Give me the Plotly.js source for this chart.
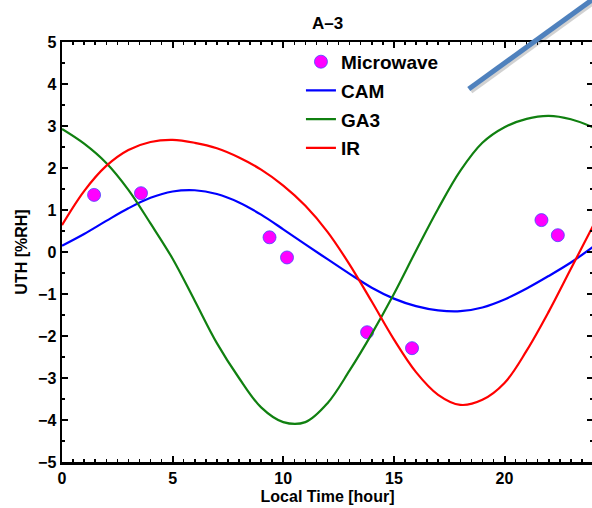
<!DOCTYPE html>
<html>
<head>
<meta charset="utf-8">
<script src="https://cdn.plot.ly/plotly-3.0.1.min.js"></script>
<style>
html,body{margin:0;padding:0;overflow:hidden;background:#fff;width:592px;height:508px;}
#chart{width:600px;height:508px;}
</style>
</head>
<body>
<div id="chart"></div>
<script>
// Local time (hour) for the curves
const hours = [0,1,2,3,4,5,6,7,8,9,10,11,12,13,14,15,16,17,18,19,20,21,22,23,24];
// CAM (blue)
const cam = [0.15,0.43,0.74,1.04,1.29,1.44,1.47,1.38,1.18,0.89,0.54,0.18,-0.17,-0.52,-0.85,-1.11,-1.29,-1.39,-1.41,-1.32,-1.13,-0.87,-0.57,-0.25,0.12];
// GA3 (green)
const ga3 = [2.93,2.58,2.12,1.48,0.68,-0.16,-1.16,-2.17,-3.00,-3.70,-4.05,-4.05,-3.60,-2.82,-1.95,-1.00,0.03,1.03,1.93,2.60,2.97,3.17,3.24,3.16,2.97];
// IR (red)
const ir = [0.64,1.45,2.05,2.43,2.62,2.67,2.60,2.47,2.25,1.96,1.58,1.10,0.48,-0.30,-1.18,-2.08,-2.86,-3.40,-3.64,-3.52,-3.12,-2.35,-1.42,-0.40,0.62];
// Microwave observations
const mwHour = [1.45,3.57,9.38,10.17,13.79,15.82,21.67,22.41];
const mwUTH  = [1.36,1.40,0.35,-0.13,-1.91,-2.29,0.76,0.40];

const font = {family:'"Liberation Sans", Arial, Helvetica, sans-serif', color:'#000', weight:'bold'};

const traces = [
  {x: mwHour, y: mwUTH, name:'Microwave', legendgroup:'a', mode:'markers', type:'scatter',
   marker:{color:'#ff00ff', size:13, line:{color:'rgba(70,70,255,0.8)', width:1}}},
  {x: hours, y: cam, name:'CAM', legendgroup:'b', mode:'lines', type:'scatter',
   line:{color:'#0000ff', width:2.2, shape:'spline', smoothing:1}},
  {x: hours, y: ga3, name:'GA3', legendgroup:'c', mode:'lines', type:'scatter',
   line:{color:'#108010', width:2.2, shape:'spline', smoothing:1}},
  {x: hours, y: ir, name:'IR', legendgroup:'d', mode:'lines', type:'scatter',
   line:{color:'#ff0000', width:2.2, shape:'spline', smoothing:1}}
];

const axisCommon = {
  showgrid:false, zeroline:false, showline:true, linecolor:'#000', linewidth:2.5,
  mirror:'allticks', ticks:'inside', ticklen:6, tickwidth:2, tickcolor:'#000',
  tickfont:Object.assign({size:16}, font)
};

const layout = {
  width:600, height:508,
  margin:{l:62, r:7, t:42, b:46},
  paper_bgcolor:'#fff', plot_bgcolor:'#fff',
  font: font,
  showlegend:true,
  title:{text:'A–3', x:0.5, xref:'paper', xanchor:'center', y:0.955, yanchor:'middle',
         font:Object.assign({size:17}, font)},
  xaxis:Object.assign({}, axisCommon, {
    range:[0,24], tickvals:[0,5,10,15,20], ticktext:['0','5','10','15','20'],
    minor:{dtick:0.5, tick0:0, ticks:'inside', ticklen:3, tickwidth:1.5, tickcolor:'#000'},
    title:{text:'Local Time [hour]', font:Object.assign({size:16}, font), standoff:5}
  }),
  yaxis:Object.assign({}, axisCommon, {
    range:[-5,5], dtick:1, tick0:0,
    minor:{dtick:0.5, tick0:0, ticks:'inside', ticklen:3, tickwidth:1.5, tickcolor:'#000'},
    title:{text:'UTH [%RH]', font:Object.assign({size:16}, font), standoff:7}
  }),
  legend:{x:0.45, y:0.998, xanchor:'left', yanchor:'top', bgcolor:'rgba(0,0,0,0)',
          font:Object.assign({size:19}, font), tracegroupgap:1, itemwidth:30},
  shapes:[
    {type:'line', xref:'paper', yref:'paper', x0:0.770, y0:0.883, x1:1.017, y1:1.109,
     line:{color:'rgba(0,0,0,0.18)', width:5}, layer:'above'},
    {type:'line', xref:'paper', yref:'paper', x0:0.766, y0:0.888, x1:1.013, y1:1.114,
     line:{color:'#4f81bd', width:5}, layer:'above'}
  ]
};

Plotly.newPlot('chart', traces, layout, {displayModeBar:false, staticPlot:true});
</script>
</body>
</html>
